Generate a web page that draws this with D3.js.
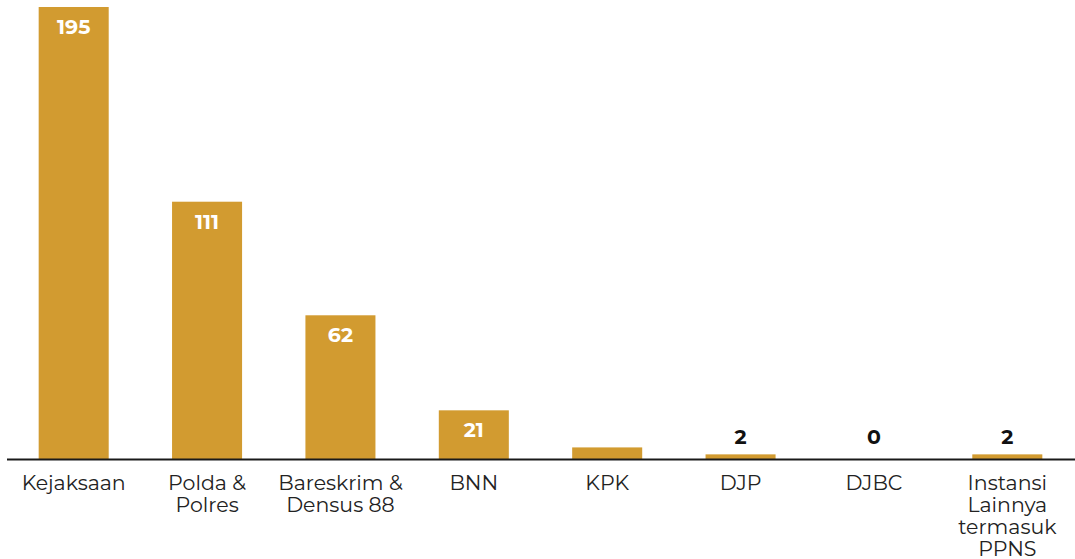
<!DOCTYPE html>
<html><head><meta charset="utf-8">
<script src="https://cdn.jsdelivr.net/npm/d3@7"></script>
<style>body{margin:0;background:#fff}svg{display:block}</style>
</head><body>
<svg id="c" width="1075" height="559"></svg>
<script>
const categories = ["Kejaksaan","Polda & Polres","Bareskrim & Densus 88","BNN","KPK","DJP","DJBC","Instansi Lainnya termasuk PPNS"];
const categoryLines = [["Kejaksaan"],["Polda &","Polres"],["Bareskrim &","Densus 88"],["BNN"],["KPK"],["DJP"],["DJBC"],["Instansi","Lainnya","termasuk","PPNS"]];
const values = [195,111,62,21,5,2,0,2];
const shownLabels = [true,true,true,true,false,true,true,true];

const svg = d3.select("#c");
const font = "Montserrat, 'Open Sans', 'Noto Sans', sans-serif";
const x = d3.scaleBand().domain(categories).range([7,1074]).paddingInner(0.475).paddingOuter(0.2375);
const y = d3.scaleLinear().domain([0,195]).range([459,7]);
const color = "#D29B30";

svg.selectAll("rect.bar").data(values).join("rect")
  .attr("x",(d,i)=>x(categories[i])).attr("width",x.bandwidth())
  .attr("y",d=>y(d)).attr("height",d=>y(0)-y(d)).attr("fill",color);

const valData = values.map((v,i)=>({v,i})).filter(o=>shownLabels[o.i]);
svg.selectAll("text.val").data(valData).join("text")
  .attr("x",o=>x(categories[o.i])+x.bandwidth()/2)
  .attr("y",o=> o.v>=5 ? y(o.v)+27 : y(0)-15)
  .attr("text-anchor","middle")
  .attr("font-family",font).attr("font-weight","bold").attr("font-size",20.5)
  .attr("fill",o=> o.v>=5 ? "#fff" : "#111")
  .text(o=>o.v);

svg.append("line").attr("x1",7).attr("x2",1075).attr("y1",459.5).attr("y2",459.5)
  .attr("stroke","#1a1a1a").attr("stroke-width",2);

const lab = svg.selectAll("text.cat").data(categoryLines).join("text")
  .attr("text-anchor","middle").attr("font-family",font).attr("font-size",20.5).attr("fill","#222")
  .attr("x",(d,i)=>x(categories[i])+x.bandwidth()/2);
lab.selectAll("tspan").data(d=>d).join("tspan")
  .attr("x",function(){return this.parentNode.getAttribute("x");})
  .attr("y",(d,j)=>490+j*22).text(d=>d);
</script>
</body></html>
